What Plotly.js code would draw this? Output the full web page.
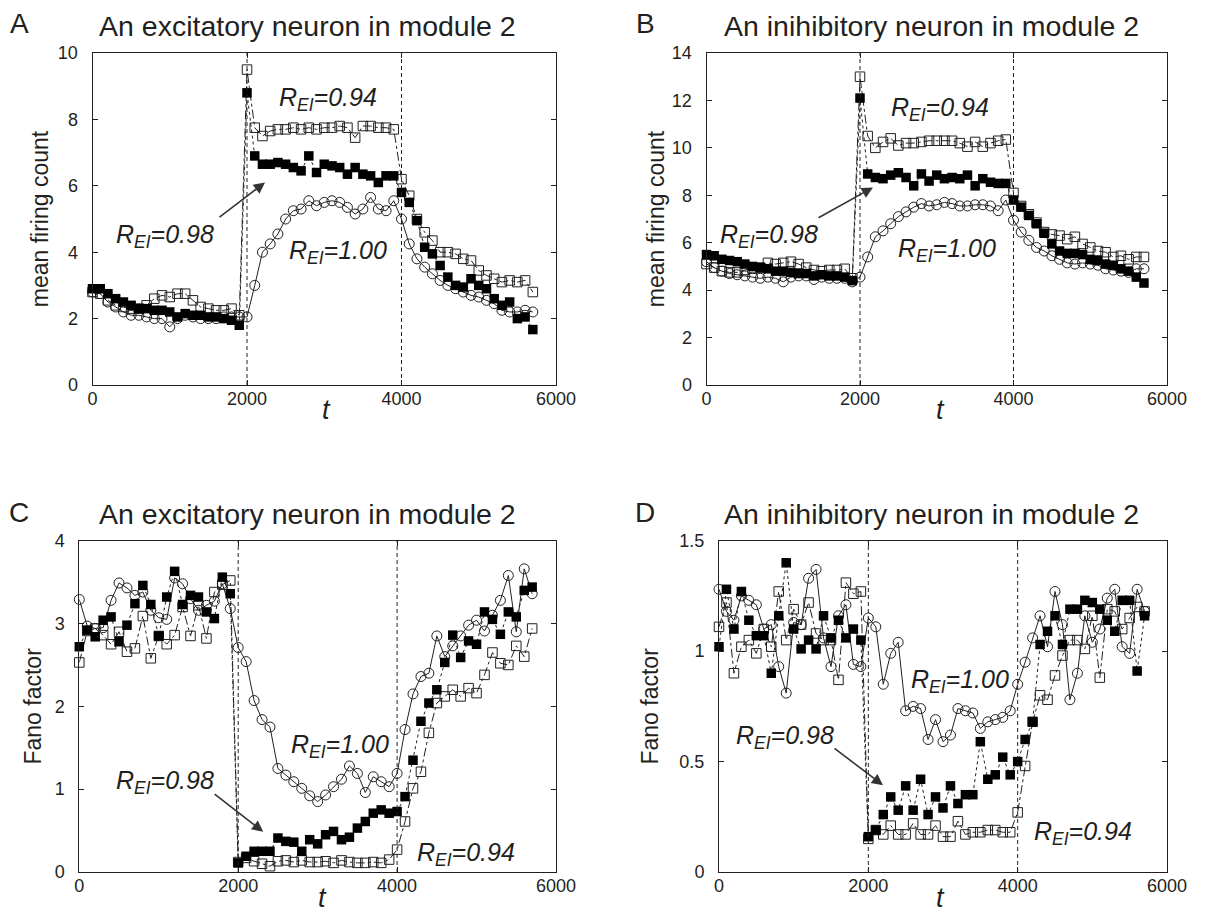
<!DOCTYPE html>
<html><head><meta charset="utf-8">
<script src="https://cdn.plot.ly/plotly-3.0.1.min.js"></script>
<style>html,body{margin:0;padding:0;background:#fff}#chart{width:1211px;height:917px}</style>
</head><body><div id="chart"></div>
<script>
// time points (t)
const tValues = [0,100,200,300,400,500,600,700,800,900,1000,1100,1200,1300,1400,1500,1600,1700,1800,1900,
  2000,2100,2200,2300,2400,2500,2600,2700,2800,2900,3000,3100,3200,3300,3400,3500,3600,3700,3800,3900,
  4000,4100,4200,4300,4400,4500,4600,4700,4800,4900,5000,5100,5200,5300,5400,5500,5600,5700];

// Panel A: excitatory neuron, mean firing count
const excCountR100 = [2.8,2.75,2.5,2.35,2.2,2.1,2.1,2.05,2.0,2.0,1.75,2.0,2.1,2.05,2.0,2.0,2.0,2.05,2.05,2.05,
  2.05,3.0,4.0,4.25,4.55,5.0,5.25,5.3,5.55,5.4,5.5,5.55,5.5,5.35,5.15,5.3,5.65,5.3,5.25,5.55,
  5.0,4.25,3.8,3.55,3.35,3.15,3.0,2.9,2.8,2.7,2.65,2.55,2.45,2.25,2.2,2.2,2.25,2.2];
const excCountR098 = [2.9,2.9,2.75,2.6,2.5,2.4,2.3,2.3,2.25,2.25,2.2,2.05,2.15,2.1,2.1,2.05,2.05,2.0,1.95,1.8,
  8.8,6.9,6.65,6.65,6.7,6.65,6.55,6.45,6.9,6.4,6.65,6.6,6.55,6.35,6.55,6.35,6.3,6.1,6.3,6.3,
  5.8,5.5,4.95,4.15,3.95,3.6,3.25,3.0,2.95,3.2,3.0,2.9,2.6,2.4,2.5,2.0,2.05,1.67];
const excCountR094 = [2.8,2.75,2.55,2.4,2.35,2.3,2.3,2.4,2.6,2.7,2.65,2.75,2.75,2.55,2.35,2.3,2.25,2.25,2.3,2.1,
  9.5,7.75,7.5,7.65,7.7,7.7,7.75,7.7,7.75,7.7,7.75,7.75,7.8,7.75,7.45,7.8,7.8,7.75,7.75,7.7,
  6.2,5.7,5.0,4.6,4.35,4.0,4.0,3.95,3.8,3.75,3.45,3.3,3.2,3.1,3.15,3.1,3.15,2.8];

// Panel B: inhibitory neuron, mean firing count
const inhCountR100 = [5.2,4.95,4.8,4.7,4.65,4.6,4.55,4.5,4.55,4.5,4.35,4.55,4.6,4.6,4.45,4.55,4.5,4.5,4.5,4.35,
  4.55,5.4,6.25,6.5,6.8,7.1,7.3,7.5,7.65,7.55,7.6,7.7,7.65,7.55,7.55,7.6,7.6,7.55,7.35,7.8,
  6.95,6.45,6.1,5.8,5.65,5.45,5.3,5.15,5.1,5.15,5.1,5.05,4.9,4.85,4.8,4.75,4.9,4.9];
const inhCountR098 = [5.5,5.45,5.3,5.25,5.2,5.1,5.0,4.95,4.9,4.8,4.8,4.75,4.7,4.7,4.6,4.65,4.6,4.6,4.55,4.4,
  12.1,8.9,8.75,8.7,8.85,8.95,8.75,8.4,8.9,8.6,8.85,8.7,8.75,8.7,8.85,8.4,8.7,8.55,8.5,8.5,
  7.8,7.5,7.15,6.8,6.4,5.95,5.65,5.55,5.55,5.5,5.3,5.25,5.1,5.05,4.9,4.8,4.55,4.3];
const inhCountR094 = [5.1,4.95,4.8,4.75,4.75,4.85,4.9,4.95,5.15,5.1,5.15,5.2,5.1,4.95,4.85,4.8,4.85,4.85,4.9,4.5,
  13.0,10.5,10.0,10.25,10.4,10.1,10.2,10.2,10.25,10.3,10.3,10.3,10.3,10.2,10.05,10.25,10.05,10.2,10.3,10.35,
  8.1,7.55,7.2,6.85,6.45,6.35,6.3,6.15,6.25,5.95,5.8,5.65,5.6,5.4,5.45,5.3,5.4,5.4];

// Panel C: excitatory neuron, Fano factor
const excFanoR100 = [3.29,2.97,2.94,2.95,3.28,3.49,3.43,3.34,3.38,3.16,3.07,3.05,3.55,3.48,3.3,3.16,3.22,3.27,3.48,3.18,
  2.71,2.54,2.07,1.84,1.75,1.25,1.17,1.09,1.01,0.92,0.85,0.93,1.03,1.12,1.28,1.19,0.96,1.15,1.09,1.03,
  1.19,1.72,2.15,2.36,2.4,2.85,2.6,2.73,2.85,2.98,3.04,2.91,3.1,3.28,3.58,2.9,3.66,3.36];
const excFanoR098 = [2.72,2.92,2.84,3.04,3.08,2.78,2.98,3.24,3.46,3.23,2.85,3.32,3.63,3.23,3.34,3.32,3.14,3.06,3.56,3.36,
  0.11,0.19,0.25,0.25,0.25,0.41,0.37,0.36,0.25,0.39,0.34,0.45,0.49,0.39,0.42,0.53,0.61,0.71,0.75,0.71,
  0.73,0.91,1.35,1.82,2.04,2.2,2.53,2.86,2.59,2.79,2.75,3.14,3.05,2.87,3.14,3.08,3.4,3.44];
const excFanoR094 = [2.53,2.91,2.94,2.86,2.75,2.9,2.66,2.7,3.09,2.58,2.85,2.75,2.86,3.2,2.85,3.22,2.82,3.38,3.47,3.52,
  0.12,0.17,0.13,0.1,0.07,0.13,0.14,0.12,0.14,0.12,0.12,0.13,0.11,0.14,0.12,0.11,0.11,0.12,0.11,0.15,
  0.27,0.61,1.01,1.21,1.68,2.04,2.12,2.2,2.12,2.22,2.16,2.38,2.65,2.52,2.5,2.73,2.6,2.94];

// Panel D: inhibitory neuron, Fano factor
const inhFanoR100 = [1.28,1.18,1.14,1.25,1.23,1.21,1.1,1.12,0.93,0.81,1.13,1.12,1.33,1.37,1.06,0.93,1.16,1.21,0.94,0.93,
  1.15,1.11,0.85,0.99,1.04,0.73,0.75,0.74,0.6,0.69,0.59,0.62,0.74,0.73,0.72,0.65,0.68,0.69,0.7,0.73,
  0.85,0.95,1.06,1.16,1.02,1.27,1.12,0.78,0.9,1.16,1.04,1.1,1.24,1.28,1.02,0.99,1.28,1.18];
const inhFanoR098 = [1.02,1.28,1.1,1.27,1.14,1.07,1.07,0.9,1.16,1.4,1.1,1.01,1.05,1.01,1.16,1.06,1.14,1.06,1.1,1.05,
  0.16,0.19,0.26,0.34,0.28,0.39,0.28,0.42,0.26,0.34,0.29,0.39,0.31,0.35,0.35,0.59,0.42,0.44,0.52,0.44,
  0.5,0.6,0.68,1.03,1.09,1.16,1.03,1.19,1.19,1.23,1.22,1.19,1.14,1.09,1.23,1.23,0.91,1.16];
const inhFanoR094 = [1.11,1.22,0.9,1.02,1.05,0.99,1.1,1.02,1.27,1.05,1.19,1.12,1.22,1.08,1.05,1.05,0.87,1.31,1.26,1.27,
  0.15,0.19,0.17,0.21,0.17,0.17,0.22,0.17,0.17,0.21,0.16,0.16,0.23,0.17,0.18,0.18,0.19,0.19,0.18,0.18,
  0.27,0.48,0.68,0.8,0.78,0.89,0.98,1.05,1.05,1.01,1.16,0.88,1.19,1.18,1.1,1.15,1.2,1.18];

// Text
const panelTitles = ["An excitatory neuron in module 2","An inihibitory neuron in module 2",
                     "An excitatory neuron in module 2","An inihibitory neuron in module 2"];
const panelLetters = ["A","B","C","D"];
const yTitles = ["mean firing count","mean firing count","Fano factor","Fano factor"];
const seriesNames = ["R<sub>EI</sub>=1.00","R<sub>EI</sub>=0.98","R<sub>EI</sub>=0.94"];
const xTickVals = [0,2000,4000,6000];
const stimulusEdges = [2000,4000];

const INK = '#231f20';
const FONT = '"Liberation Sans", Arial, Helvetica, sans-serif';

const panels = [
  {x:'x', y:'y',  r100:excCountR100, r098:excCountR098, r094:excCountR094},
  {x:'x2',y:'y2', r100:inhCountR100, r098:inhCountR098, r094:inhCountR094},
  {x:'x3',y:'y3', r100:excFanoR100,  r098:excFanoR098,  r094:excFanoR094},
  {x:'x4',y:'y4', r100:inhFanoR100,  r098:inhFanoR098,  r094:inhFanoR094}
];

const traces = [];
panels.forEach(p => {
  traces.push({x:tValues, y:p.r100, xaxis:p.x, yaxis:p.y, type:'scatter', mode:'lines+markers',
    name:seriesNames[0], cliponaxis:false, showlegend:false,
    line:{color:INK, width:1}, marker:{symbol:'circle-open', size:10, color:INK, line:{width:1, color:INK}}});
  traces.push({x:tValues, y:p.r094, xaxis:p.x, yaxis:p.y, type:'scatter', mode:'lines+markers',
    name:seriesNames[2], cliponaxis:false, showlegend:false,
    line:{color:INK, width:1, dash:'dashdot'}, marker:{symbol:'square-open', size:9.5, color:INK, line:{width:1, color:INK}}});
  traces.push({x:tValues, y:p.r098, xaxis:p.x, yaxis:p.y, type:'scatter', mode:'lines+markers',
    name:seriesNames[1], cliponaxis:false, showlegend:false,
    line:{color:INK, width:1, dash:'dot'}, marker:{symbol:'square', size:9.5, color:'#000', line:{width:0}}});
});

function xAxis(domain, anchor) {
  return {domain:domain, anchor:anchor, range:[0,6000], tickvals:xTickVals, ticktext:xTickVals.map(String),
    ticks:'inside', ticklen:5, tickcolor:INK, showline:true, linecolor:INK, linewidth:1, mirror:'ticks',
    zeroline:false, showgrid:false, tickfont:{size:18, color:INK, family:FONT}, ticklabelstandoff:-3, automargin:false};
}
function yAxis(domain, anchor, range, dtick, title, standoff) {
  return {domain:domain, anchor:anchor, range:range, dtick:dtick, tick0:0,
    ticks:'inside', ticklen:5, tickcolor:INK, showline:true, linecolor:INK, linewidth:1, mirror:'ticks',
    zeroline:false, showgrid:false, tickfont:{size:18, color:INK, family:FONT}, ticklabelstandoff:10, automargin:false,
    title:{text:title, font:{size:23, color:INK, family:FONT}, standoff:standoff}};
}

const W = 1211, H = 917;
const px = v => v / W, py = v => 1 - v / H;
const topRow = [py(385), py(53)], botRow = [py(872), py(540.7)];

const layout = {
  width:W, height:H, margin:{l:0,r:0,t:0,b:0}, paper_bgcolor:'#fff', plot_bgcolor:'#fff',
  font:{family:FONT, color:INK}, showlegend:false,
  xaxis:  xAxis([px(92.5), px(556)], 'y'),
  yaxis:  yAxis(topRow, 'x',  [0,10], 2, yTitles[0], 2),
  xaxis2: xAxis([px(706.5), px(1167)], 'y2'),
  yaxis2: yAxis(topRow, 'x2', [0,14], 2, yTitles[1], 0),
  xaxis3: xAxis([px(79.3), px(556)], 'y3'),
  yaxis3: yAxis(botRow, 'x3', [0,4], 1, yTitles[2], 6),
  xaxis4: xAxis([px(719), px(1167)], 'y4'),
  yaxis4: yAxis(botRow, 'x4', [0,1.5], 0.5, yTitles[3], 14),
  shapes: [], annotations: []
};

panels.forEach(p => {
  stimulusEdges.forEach(e => {
    layout.shapes.push({type:'line', xref:p.x, yref:p.y + ' domain', x0:e, x1:e, y0:0, y1:1,
      line:{color:INK, width:1, dash:'4px,3px'}});
  });
});

const ann = layout.annotations;
const titlePos = [[307.5,26],[931,26],[307.5,514],[931,514]];
const letterPos = [[19,24],[645,24],[19,512],[645,512]];
const tPos = [[326,410],[940,410],[322,898],[940,898]];
for (let i = 0; i < 4; i++) {
  ann.push({xref:'paper', yref:'paper', x:px(titlePos[i][0]), y:py(titlePos[i][1]), xanchor:'center', yanchor:'middle',
    text:panelTitles[i], showarrow:false, font:{size:28.5, color:INK, family:FONT}});
  ann.push({xref:'paper', yref:'paper', x:px(letterPos[i][0]), y:py(letterPos[i][1]), xanchor:'center', yanchor:'middle',
    text:panelLetters[i], showarrow:false, font:{size:28, color:INK, family:FONT}});
  ann.push({xref:'paper', yref:'paper', x:px(tPos[i][0]), y:py(tPos[i][1]), xanchor:'center', yanchor:'middle',
    text:'<i>t</i>', showarrow:false, font:{size:27, color:INK, family:FONT}});
}

// R_EI labels: [panel index, series index, t, value]
const labelPos = [
  [0,2,3049,8.6],[0,1,939,4.5],[0,0,3178,4.0],
  [1,2,3042,11.65],[1,1,814,6.3],[1,0,3134,5.7],
  [2,0,3285,1.52],[2,1,1083,1.09],[2,2,4861,0.22],
  [3,0,3228,0.865],[3,1,884,0.61],[3,2,4875,0.175]
];
labelPos.forEach(l => {
  const p = panels[l[0]];
  ann.push({xref:p.x, yref:p.y, x:l[2], y:l[3], xanchor:'center', yanchor:'middle', showarrow:false,
    text:'<i>' + seriesNames[l[1]] + '</i>', font:{size:25, color:INK, family:FONT}});
});

// arrows for R_EI=0.98: [panel, tailT, tailV, headT, headV]
const arrows = [[0,1625,5.02,2233,6.1],[1,1440,7.02,2169,8.33],[2,1685,0.955,2315,0.486],[3,1527,0.565,2196,0.393]];
arrows.forEach(a => {
  const p = panels[a[0]];
  ann.push({xref:p.x, yref:p.y, axref:p.x, ayref:p.y, x:a[3], y:a[4], ax:a[1], ay:a[2], text:'',
    showarrow:true, arrowhead:2, arrowsize:1.4, arrowwidth:1.6, arrowcolor:'#333'});
});

Plotly.newPlot('chart', traces, layout, {displayModeBar:false, staticPlot:true});
</script>
</body></html>
